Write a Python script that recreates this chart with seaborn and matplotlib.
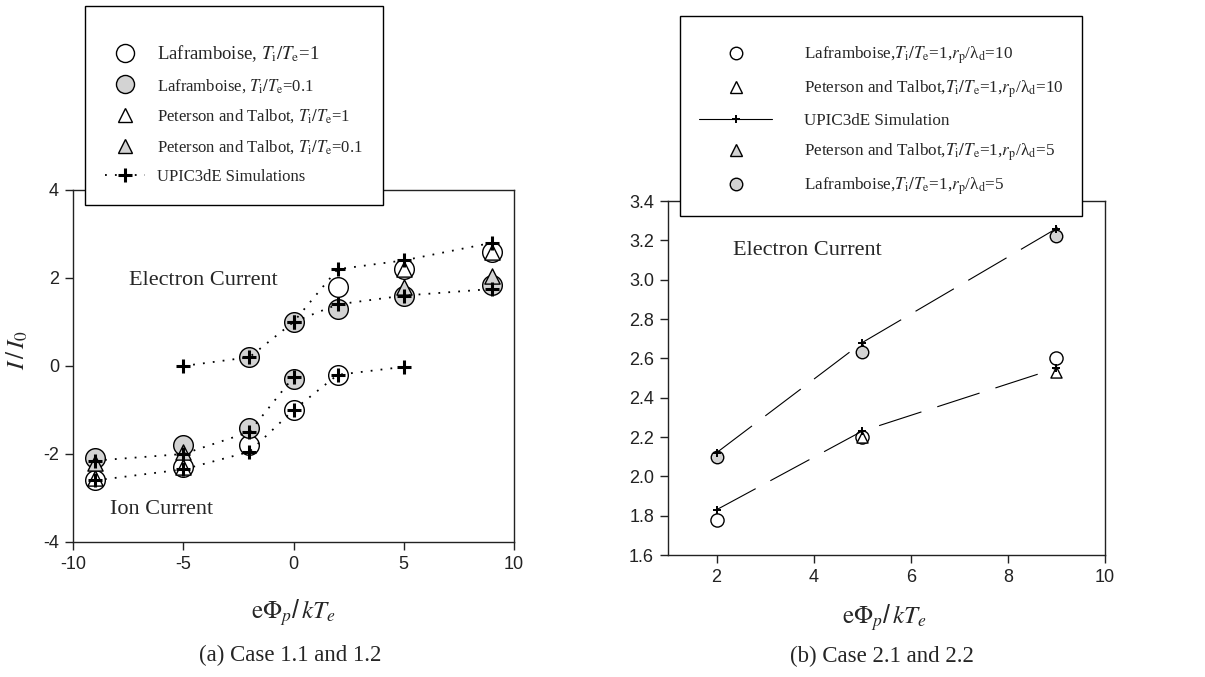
import matplotlib
matplotlib.use("Agg")
import matplotlib.pyplot as plt
import seaborn as sns
import numpy as np
import pandas as pd
from matplotlib.lines import Line2D
from matplotlib.ticker import FormatStrFormatter

# ---------------- Panel (a) data ----------------
a_sim_e1_x = [-5, -2, 0, 2, 5, 9]
a_sim_e1_y = [0.0, 0.2, 1.0, 2.2, 2.4, 2.8]
a_sim_e01_x = [0, 2, 5, 9]
a_sim_e01_y = [1.0, 1.4, 1.6, 1.75]
a_sim_i1_x = [-9, -5, -2, 0, 2, 5]
a_sim_i1_y = [-2.6, -2.35, -1.95, -1.0, -0.2, -0.02]
a_sim_i01_x = [-9, -5, -2, 0]
a_sim_i01_y = [-2.15, -2.0, -1.5, -0.25]

a_lafr1_x = [-9, -5, -2, 0, 2, 2, 5, 9]
a_lafr1_y = [-2.6, -2.3, -1.8, -1.0, -0.2, 1.8, 2.2, 2.6]
a_lafr01_x = [-9, -5, -2, 0, -2, 0, 2, 5, 9]
a_lafr01_y = [-2.1, -1.8, -1.4, -0.3, 0.2, 1.0, 1.3, 1.6, 1.85]
a_pt1_x = [-9, -5, 5, 9]
a_pt1_y = [-2.55, -2.3, 2.2, 2.6]
a_pt01_x = [-9, -5, 5, 9]
a_pt01_y = [-2.2, -1.95, 1.8, 2.05]

a_xticks = [-10, -5, 0, 5, 10]
a_yticks = [-4, -2, 0, 2, 4]

# ---------------- Panel (b) data ----------------
b_x = [2, 5, 9]
b_lafr10 = [1.78, 2.20, 2.60]
b_pt10_x = [5, 9]
b_pt10 = [2.20, 2.53]
b_sim10 = [1.83, 2.23, 2.55]
b_pt5_x = [5, 9]
b_pt5 = [2.65, 3.24]
b_sim5 = [2.12, 2.68, 3.26]
b_lafr5 = [2.10, 2.63, 3.22]

b_xticks = [2, 4, 6, 8, 10]
b_yticks = [1.6, 1.8, 2.0, 2.2, 2.4, 2.6, 2.8, 3.0, 3.2, 3.4]

GRAY = "#d3d3d3"
SERIF = "Liberation Serif"
SANS = "Liberation Sans"

sns.set_theme(style="ticks")
plt.rcParams["font.family"] = [SANS, "DejaVu Sans"]
plt.rcParams["mathtext.fontset"] = "stix"
plt.rcParams["axes.unicode_minus"] = False

fig = plt.figure(figsize=(12.05, 6.77), dpi=100)
W, H = 1205, 677
def ax_rect(l, r, t, b):
    return [l / W, 1 - b / H, (r - l) / W, (b - t) / H]

axa = fig.add_axes(ax_rect(73, 514, 190, 542))
axb = fig.add_axes(ax_rect(668, 1105, 201, 555))

def scat(ax, x, y, marker, s, fc, z, lw=1.0):
    sns.scatterplot(x=x, y=y, marker=marker, s=s, color=fc, edgecolor="black",
                    linewidth=lw, ax=ax, zorder=z, legend=False)

# ---------- Panel (a) ----------
scat(axa, a_lafr1_x, a_lafr1_y, "o", 200, "white", 3)
scat(axa, a_lafr01_x, a_lafr01_y, "o", 200, GRAY, 3)
scat(axa, a_pt1_x, a_pt1_y, "^", 120, "white", 4)
scat(axa, a_pt01_x, a_pt01_y, "^", 120, GRAY, 4)

dotted = (0, (1, 4.5))
for xs, ys in [(a_sim_e1_x, a_sim_e1_y), (a_sim_e01_x, a_sim_e01_y),
               (a_sim_i1_x, a_sim_i1_y), (a_sim_i01_x, a_sim_i01_y)]:
    sns.lineplot(x=xs, y=ys, sort=False, estimator=None, color="black",
                 linestyle=dotted, linewidth=1.3, marker="+", markersize=10,
                 markeredgewidth=2.2, markeredgecolor="black", ax=axa, zorder=5)

axa.set_xlim(-10, 10)
axa.set_ylim(-4, 4)
axa.set_xticks(a_xticks)
axa.set_yticks(a_yticks)
axa.set_xlabel("")
axa.set_ylabel("")

axa.text(-7.45, 1.95, "Electron Current", family=SERIF, fontsize=16, va="center", ha="left")
axa.text(-8.3, -3.27, "Ion Current", family=SERIF, fontsize=16, va="center", ha="left")

fig.text(17 / W, 1 - 350 / H, r"$I\,/\,I_0$", fontsize=18, rotation=90,
         ha="center", va="center")
fig.text(293.5 / W, 1 - 613 / H, r"$\mathrm{e}\Phi_p$/$\,kT_e$", fontsize=18,
         ha="center", va="center")
fig.text(290 / W, 1 - 655 / H, "(a) Case 1.1 and 1.2", family=SERIF, fontsize=16.5,
         ha="center", va="center")

# ---------- Panel (b) ----------
scat(axb, b_pt5_x, b_pt5, "^", 64, GRAY, 3)
scat(axb, b_x, b_lafr5, "o", 81, GRAY, 4)
scat(axb, b_x, b_lafr10, "o", 90, "white", 3)
scat(axb, b_pt10_x, b_pt10, "^", 64, "white", 4)

dashed = (0, (40, 15))
for ys in [b_sim5, b_sim10]:
    sns.lineplot(x=b_x, y=ys, sort=False, estimator=None, color="black",
                 linewidth=0.8, marker="+", markersize=6, markeredgewidth=1.4,
                 markeredgecolor="black", ax=axb, zorder=5)
for ln in axb.lines:
    ln.set_linestyle(dashed)

axb.set_xlim(1, 10)
axb.set_ylim(1.6, 3.4)
axb.set_xticks(b_xticks)
axb.set_yticks(b_yticks)
axb.yaxis.set_major_formatter(FormatStrFormatter("%.1f"))
axb.set_xlabel("")
axb.set_ylabel("")
axb.text(2.34, 3.15, "Electron Current", family=SERIF, fontsize=16, va="center", ha="left")
fig.text(884 / W, 1 - 618 / H, r"$\mathrm{e}\Phi_p$/$\,kT_e$", fontsize=18,
         ha="center", va="center")
fig.text(882 / W, 1 - 656 / H, "(b) Case 2.1 and 2.2", family=SERIF, fontsize=16.5,
         ha="center", va="center")

for ax in (axa, axb):
    for sp in ax.spines.values():
        sp.set_visible(True)
        sp.set_linewidth(1.0)
        sp.set_color("#222222")
    ax.tick_params(axis="both", which="both", direction="out", length=6, width=1,
                   color="#222222", labelsize=13, top=False, right=False, pad=4,
                   labelcolor="#222222")
    for lab in ax.get_xticklabels() + ax.get_yticklabels():
        lab.set_family(SANS)

# ---------- Legends ----------
hl_a = [
    Line2D([], [], ls="none", marker="o", ms=13, mfc="white", mec="black", mew=1),
    Line2D([], [], ls="none", marker="o", ms=13, mfc=GRAY, mec="black", mew=1),
    Line2D([], [], ls="none", marker="^", ms=10, mfc="white", mec="black", mew=1),
    Line2D([], [], ls="none", marker="^", ms=10, mfc=GRAY, mec="black", mew=1),
    Line2D([], [], ls=dotted, lw=1.3, color="black", marker="+", ms=10, mew=2.2),
]
lab_a = [
    r"Laframboise, $T_{\rm i}/T_{\rm e}$=1",
    r"Laframboise, $T_{\rm i}/T_{\rm e}$=0.1",
    r"Peterson and Talbot, $T_{\rm i}/T_{\rm e}$=1",
    r"Peterson and Talbot, $T_{\rm i}/T_{\rm e}$=0.1",
    "UPIC3dE Simulations",
]
lega = fig.legend(hl_a, lab_a, loc="upper left", bbox_to_anchor=(85 / W, 1 - 6 / H),
                  borderaxespad=0, frameon=True, fancybox=False, edgecolor="black",
                  framealpha=1, prop={"family": SERIF, "size": 12}, numpoints=1,
                  handlelength=2.4, handletextpad=0.72, borderpad=1.2, labelspacing=0.78,
                  title=" ", title_fontsize=2)
lega.get_frame().set_linewidth(1.0)
lega.get_texts()[0].set_fontsize(13.5)

hl_b = [
    Line2D([], [], ls="none", marker="o", ms=9, mfc="white", mec="black", mew=1),
    Line2D([], [], ls="none", marker="^", ms=8, mfc="white", mec="black", mew=1),
    Line2D([], [], ls="-", lw=0.8, color="black", marker="+", ms=6, mew=1.4),
    Line2D([], [], ls="none", marker="^", ms=8, mfc=GRAY, mec="black", mew=1),
    Line2D([], [], ls="none", marker="o", ms=9, mfc=GRAY, mec="black", mew=1),
]
lab_b = [
    r"Laframboise,$T_{\rm i}/T_{\rm e}$=1,$r_{\rm p}$/λ$_{\rm d}$=10",
    r"Peterson and Talbot,$T_{\rm i}/T_{\rm e}$=1,$r_{\rm p}$/λ$_{\rm d}$=10",
    "UPIC3dE Simulation",
    r"Peterson and Talbot,$T_{\rm i}/T_{\rm e}$=1,$r_{\rm p}$/λ$_{\rm d}$=5",
    r"Laframboise,$T_{\rm i}/T_{\rm e}$=1,$r_{\rm p}$/λ$_{\rm d}$=5",
]
legb = fig.legend(hl_b, lab_b, loc="upper left", bbox_to_anchor=(680 / W, 1 - 16 / H),
                  borderaxespad=0, frameon=True, fancybox=False, edgecolor="black",
                  framealpha=1, prop={"family": SERIF, "size": 12.3}, numpoints=1,
                  handlelength=4.3, handletextpad=1.85, borderpad=1.1, labelspacing=0.74,
                  title=" ", title_fontsize=2)
legb.get_frame().set_linewidth(1.0)
try:
    legb._legend_box.sep = 4
except Exception:
    pass

fig.savefig("out.png", dpi=100, facecolor="white")
